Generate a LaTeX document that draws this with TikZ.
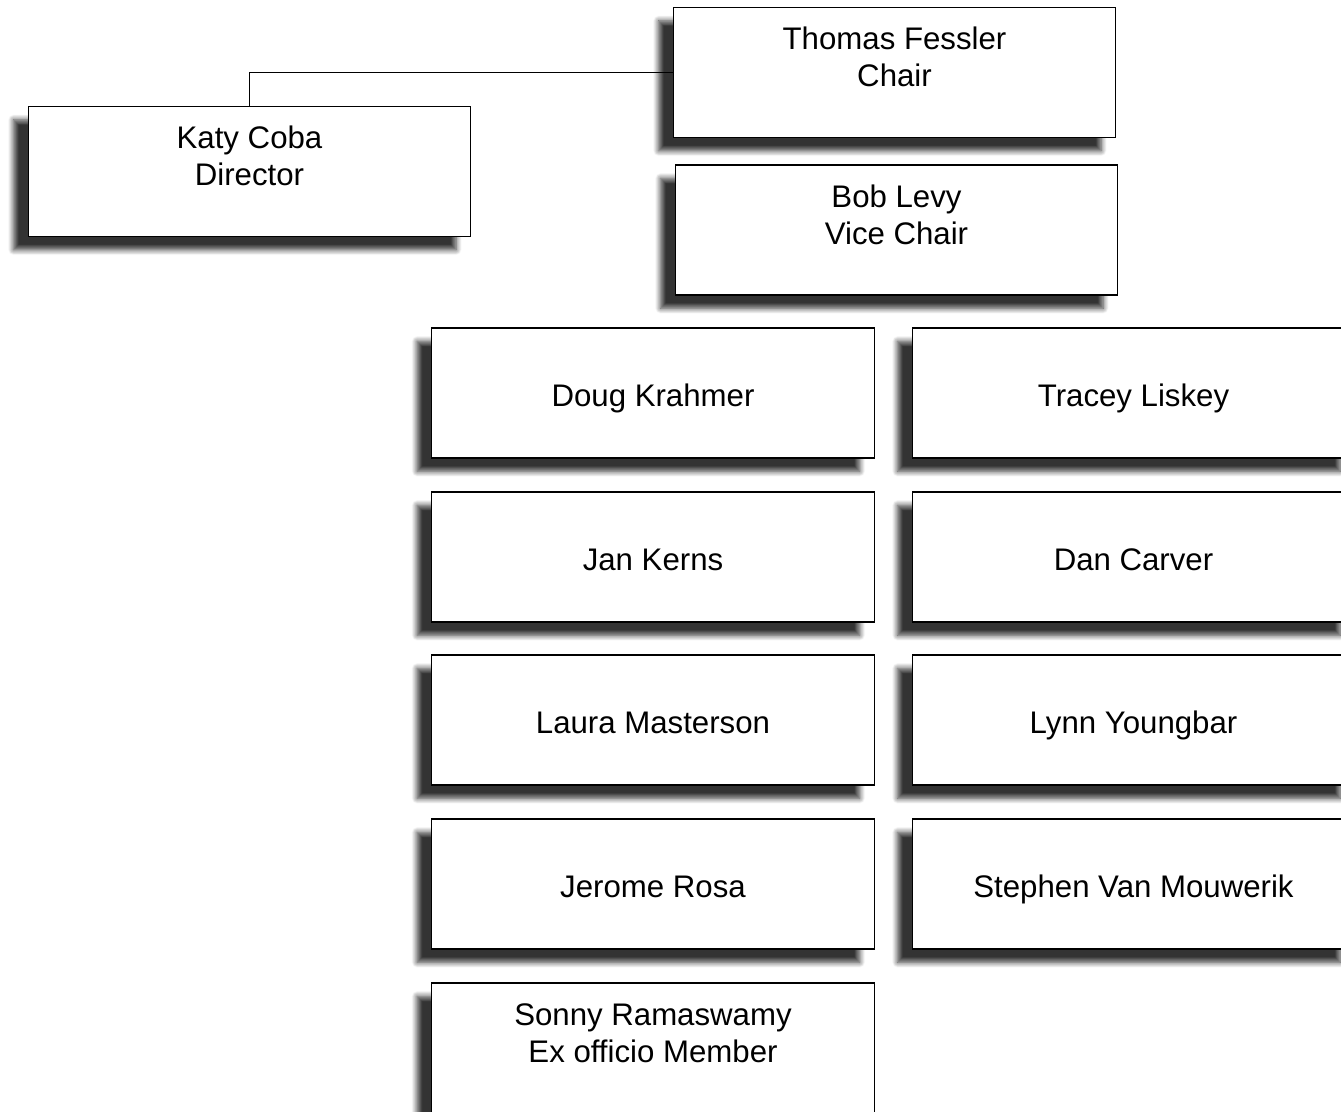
\documentclass[tikz,border=0pt]{standalone}
\usepackage{fontspec}
\setmainfont{Liberation Sans}
\usetikzlibrary{shadows.blur}

\newcommand{\toprule}{\rule{0pt}{21.5pt}}

\begin{document}
\begin{tikzpicture}[
		x=0.75pt,
		y=-0.75pt,
		member/.style={draw=black,line width=0.9pt,fill=white,minimum width=332pt,minimum height=97.5pt,align=center,
			font=\fontsize{23.4pt}{27.8pt}\selectfont,
			blur shadow={shadow xshift=-11pt,shadow yshift=-10pt,shadow blur radius=4pt,shadow blur steps=8,shadow opacity=80}},
		single/.style={text height=22pt,text depth=2.5pt},
	]
		\useasboundingbox (0,0) rectangle (1341,1111);
		
		\node[member] (chair) at (894.5,72.5) {\toprule Thomas Fessler\\Chair\\\mbox{}};
		\node[member] (vice) at (896.5,230) {\toprule Bob Levy\\Vice Chair\\\mbox{}};
		\node[member] (director) at (249.5,171.5) {\toprule Katy Coba\\Director\\\mbox{}};
		
		\foreach \n/\y/\l/\r in {1/393/Doug Krahmer/Tracey Liskey, 2/557/Jan Kerns/Dan Carver, 3/720/Laura Masterson/Lynn Youngbar, 4/884/Jerome Rosa/Stephen Van Mouwerik}{
			\node[member,single] (left\n) at (653,\y) {\l};
			\node[member,single] (right\n) at (1133.5,\y) {\r};
		}
		\node[member] (exofficio) at (653,1048) {\toprule Sonny Ramaswamy\\Ex officio Member\\\mbox{}};
		
		\draw[line width=0.9pt] (chair.west) -| (director.north);
	\end{tikzpicture}
\end{document}
